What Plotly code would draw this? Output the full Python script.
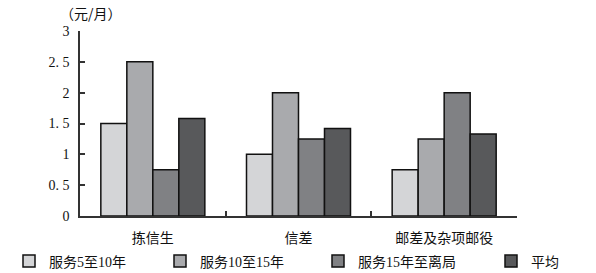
import plotly.graph_objects as go

categories = ["拣信生", "信差", "邮差及杂项邮役"]
series_names = ["服务5至10年", "服务10至15年", "服务15年至离局", "平均"]
s1 = [1.5, 1.0, 0.75]
s2 = [2.5, 2.0, 1.25]
s3 = [0.75, 1.25, 2.0]
s4 = [1.58, 1.42, 1.33]
tick_vals = [0, 0.5, 1, 1.5, 2, 2.5, 3]
tick_text = ["0", "0. 5", "1", "1. 5", "2", "2. 5", "3"]
y_unit = "（元/月）"

colors = ["#d4d5d7", "#a9aaad", "#808184", "#58595b"]
series = [s1, s2, s3, s4]

W, H = 596, 273
L, R, T, B = 80, 79, 31, 57
pw = W - L - R
ph = H - T - B

cjk = "Noto Sans CJK SC"
serif = "Liberation Serif, " + cjk

fig = go.Figure()
legend_ids = ["legend", "legend2", "legend3", "legend4"]
text_x = [49, 200, 358, 531]
for name, vals, c, lg in zip(series_names, series, colors, legend_ids):
    fig.add_trace(go.Bar(
        x=categories, y=vals, name=name,
        marker=dict(color=c, line=dict(color="#111111", width=1.5)),
        legend=lg,
    ))

layout_legends = {}
for lg, tx in zip(legend_ids, text_x):
    layout_legends[lg] = dict(
        x=(tx - 40 - L) / pw, xanchor="left",
        y=(T + ph - 261.5) / ph, yanchor="middle",
        orientation="h", bgcolor="rgba(0,0,0,0)", borderwidth=0,
        font=dict(family=serif, size=14, color="#111"),
        itemclick=False, itemdoubleclick=False,
    )

fig.update_layout(
    width=W, height=H,
    margin=dict(l=L, r=R, t=T, b=B, autoexpand=False),
    paper_bgcolor="white", plot_bgcolor="white",
    barmode="group", bargap=0.286, bargroupgap=0,
    showlegend=True,
    **layout_legends,
)
fig.update_xaxes(
    type="category", showgrid=False, zeroline=False,
    showline=True, linecolor="#333", linewidth=1.5,
    ticks="inside", ticklen=5, tickwidth=1.5, tickcolor="#333",
    tickson="boundaries",
    tickfont=dict(family=cjk, size=14, color="#111"),
    ticklabelstandoff=8,
)
fig.update_yaxes(
    range=[0, 3], showgrid=False, zeroline=False,
    showline=True, linecolor="#333", linewidth=1.5,
    ticks="inside", ticklen=5, tickwidth=1.5, tickcolor="#333",
    tickvals=tick_vals, ticktext=tick_text,
    tickfont=dict(family=serif, size=14, color="#111"),
    ticklabelstandoff=6,
)
fig.add_annotation(
    text=y_unit, xref="paper", yref="paper",
    x=(91 - L) / pw, y=(T + ph - 13) / ph, xanchor="center", yanchor="middle",
    showarrow=False, font=dict(family=cjk, size=14, color="#111"),
)
fig.write_html("out.html")
